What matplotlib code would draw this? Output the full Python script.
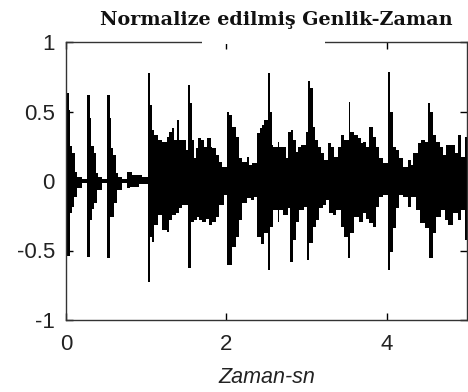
import numpy as np
import matplotlib
matplotlib.use("Agg")
import matplotlib.pyplot as plt
from matplotlib.patches import Rectangle

# ---- data (step envelope of the waveform) ----
duration = 5.0
top_t = [0.000, 0.033, 0.055, 0.075, 0.108, 0.140, 0.200,
         0.262, 0.296, 0.315, 0.345, 0.370, 0.400, 0.450,
         0.512, 0.546, 0.565, 0.590, 0.620, 0.650, 0.700,
         0.762, 0.825, 0.950,
         1.020, 1.042, 1.067, 1.096, 1.150,
         1.200, 1.2625, 1.283, 1.325, 1.346, 1.3875, 1.408, 1.492, 1.521, 1.542,
         1.567, 1.596, 1.617, 1.650, 1.679, 1.721, 1.7625, 1.804, 1.825, 1.867,
         1.908, 1.950, 2.0125, 2.033, 2.075, 2.117, 2.158, 2.200, 2.2625, 2.283,
         2.317, 2.3875, 2.417,
         2.450, 2.471, 2.5125, 2.542, 2.567, 2.583, 2.6375, 2.658, 2.742, 2.7625,
         2.804, 2.825, 2.867, 2.8875, 2.929, 2.992, 3.0125, 3.042, 3.075, 3.108,
         3.1375, 3.179, 3.221, 3.2625, 3.304, 3.346, 3.3875, 3.429, 3.471, 3.525,
         3.546, 3.596, 3.6375, 3.679,
         3.700, 3.742, 3.775, 3.825, 3.867, 3.908, 3.950, 4.0125, 4.042, 4.075,
         4.117, 4.158, 4.200, 4.2625, 4.304, 4.325, 4.3875, 4.429, 4.471, 4.5125,
         4.533, 4.575, 4.617, 4.658, 4.700, 4.742, 4.846, 4.8875, 4.929, 4.971]
top_v = [0.63, 0.51, 0.25, 0.20, 0.067, 0.03, 0.012,
         0.62, 0.45, 0.25, 0.20, 0.06, 0.03, 0.012,
         0.62, 0.45, 0.24, 0.19, 0.06, 0.03, 0.012,
         0.067, 0.04, 0.03,
         0.78, 0.55, 0.37, 0.33, 0.295,
         0.28, 0.32, 0.355, 0.38, 0.295, 0.44, 0.295, 0.22, 0.69, 0.56,
         0.295, 0.163, 0.235, 0.307, 0.295, 0.247, 0.307, 0.247, 0.235, 0.187,
         0.14, 0.10, 0.50, 0.475, 0.39, 0.32, 0.163, 0.14, 0.17, 0.115,
         0.127, 0.343, 0.38,
         0.40, 0.44, 0.775, 0.50, 0.26, 0.247, 0.283, 0.247, 0.163, 0.355,
         0.367, 0.295, 0.21, 0.247, 0.26, 0.355, 0.72, 0.667, 0.39, 0.295,
         0.247, 0.20, 0.15, 0.27, 0.247, 0.175, 0.247, 0.33, 0.295, 0.57,
         0.355, 0.33, 0.307, 0.27,
         0.283, 0.247, 0.39, 0.32, 0.247, 0.163, 0.127, 0.787, 0.50, 0.247,
         0.223, 0.163, 0.10, 0.15, 0.115, 0.20, 0.27, 0.295, 0.283, 0.56,
         0.50, 0.33, 0.283, 0.247, 0.187, 0.26, 0.20, 0.33, 0.175, 0.32]

bot_t = [0.000, 0.054, 0.075, 0.096, 0.1375, 0.200,
         0.2625, 0.304, 0.325, 0.346, 0.3875, 0.450,
         0.5125, 0.554, 0.596, 0.6375, 0.700,
         0.7625, 0.804, 0.908,
         1.021, 1.042, 1.067, 1.096, 1.150,
         1.200, 1.2625, 1.283, 1.325, 1.367, 1.408, 1.450, 1.521, 1.554, 1.596,
         1.637, 1.658, 1.700, 1.742, 1.783, 1.825, 1.867, 1.908, 1.971, 2.0125,
         2.075, 2.117, 2.158, 2.200, 2.2625, 2.304, 2.346, 2.3875, 2.429,
         2.471, 2.5125, 2.542, 2.575, 2.6375, 2.658, 2.700, 2.7625, 2.796, 2.825,
         2.867, 2.908, 2.971, 3.004, 3.033, 3.075, 3.117, 3.158, 3.200, 3.242,
         3.283, 3.325, 3.367, 3.429, 3.471, 3.5125, 3.542, 3.596, 3.658,
         3.700, 3.742, 3.783, 3.825, 3.867, 3.908, 3.950, 4.0125, 4.042, 4.075,
         4.117, 4.158, 4.200, 4.2625, 4.304, 4.367, 4.408, 4.471, 4.520, 4.575,
         4.617, 4.679, 4.721, 4.763, 4.825, 4.8875, 4.929, 4.971]
bot_v = [-0.54, -0.23, -0.185, -0.113, -0.053, -0.017,
         -0.545, -0.28, -0.20, -0.16, -0.065, -0.017,
         -0.556, -0.26, -0.16, -0.065, -0.017,
         -0.05, -0.04, -0.025,
         -0.724, -0.40, -0.437, -0.317, -0.245,
         -0.353, -0.365, -0.28, -0.245, -0.233, -0.197, -0.173, -0.628, -0.293, -0.28,
         -0.257, -0.28, -0.293, -0.27, -0.317, -0.293, -0.257, -0.173, -0.10, -0.604,
         -0.473, -0.40, -0.28, -0.16, -0.125, -0.137, -0.113, -0.40, -0.45,
         -0.376, -0.64, -0.33, -0.209, -0.293, -0.209, -0.245, -0.197, -0.58, -0.424,
         -0.293, -0.209, -0.185, -0.568, -0.448, -0.33, -0.28, -0.197, -0.173, -0.137,
         -0.233, -0.245, -0.209, -0.33, -0.40, -0.556, -0.376, -0.257, -0.293,
         -0.233, -0.27, -0.305, -0.33, -0.185, -0.113, -0.10, -0.64, -0.508, -0.34,
         -0.197, -0.10, -0.113, -0.185, -0.113, -0.209, -0.305, -0.34, -0.556, -0.376,
         -0.257, -0.209, -0.28, -0.317, -0.233, -0.28, -0.209, -0.424]

x_ticks = [0, 2, 4]
y_ticks = [-1, -0.5, 0, 0.5, 1]
y_tick_labels = ["-1", "-0.5", "0", "0.5", "1"]
title = "Normalize edilmiş Genlik-Zaman"
xlabel = "Zaman-sn"

# ---- combine the two step envelopes on a common set of edges ----
top_t = np.array(top_t); top_v = np.array(top_v)
bot_t = np.array(bot_t); bot_v = np.array(bot_v)
t_all = np.union1d(top_t, bot_t)
up = top_v[np.searchsorted(top_t, t_all, side="right") - 1]
lo = bot_v[np.searchsorted(bot_t, t_all, side="right") - 1]
edges = np.append(t_all, duration)

plt.rcParams["axes.unicode_minus"] = False
W, H = 468, 392
fig = plt.figure(figsize=(W / 100, H / 100), dpi=100)
ax = fig.add_axes([66 / W, 1 - 320 / H, (467 - 66) / W, (320 - 42) / H])

ax.stairs(up, edges, baseline=lo, fill=True, color="black", lw=0.5)

ax.set_xlim(0, duration)
ax.set_ylim(-1, 1)
ax.set_xticks(x_ticks)
ax.set_yticks(y_ticks)
ax.set_yticklabels(y_tick_labels)
ax.tick_params(direction="in", length=5, width=1, top=True, right=True,
               labelsize=16, colors="black")
ax.tick_params(axis="x", pad=10)
ax.tick_params(axis="y", pad=8)
for lab in ax.get_xticklabels() + ax.get_yticklabels():
    lab.set_family("Liberation Sans")
    lab.set_color("#222222")
for sp in ax.spines.values():
    sp.set_linewidth(1.0)
    sp.set_color("#333333")

ax.set_xlabel(xlabel, fontsize=15.5, style="italic", family="Liberation Sans",
              color="#222222", labelpad=9)

# title (its box hides part of the top spine, as in the original)
fig.patches.append(Rectangle((202 / W, 1 - 44 / H), (325 - 202) / W, 4 / H,
                             transform=fig.transFigure, facecolor="white",
                             edgecolor="none", zorder=10))
fig.text(276 / W, 1 - 20 / H, title, ha="center", va="center",
         fontsize=13.8, fontweight="bold", family="DejaVu Serif", color="#111111")

fig.savefig("out.png", dpi=100, facecolor="white")
